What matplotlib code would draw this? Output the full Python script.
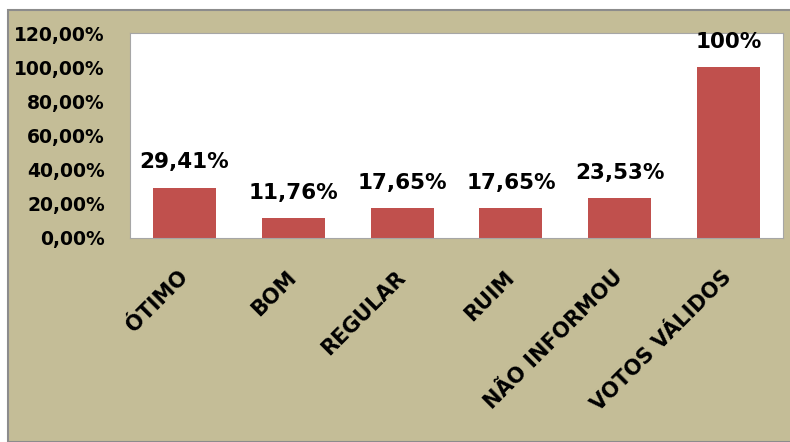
import matplotlib.pyplot as plt
from matplotlib.patches import Rectangle
from matplotlib.transforms import ScaledTranslation

categorias = ['ÓTIMO', 'BOM', 'REGULAR', 'RUIM', 'NÃO INFORMOU', 'VOTOS VÁLIDOS']
valores = [0.2941, 0.1176, 0.1765, 0.1765, 0.2353, 1.00]
rotulos = ['29,41%', '11,76%', '17,65%', '17,65%', '23,53%', '100%']
yticks = [0, 0.2, 0.4, 0.6, 0.8, 1.0, 1.2]

plt.rcParams['font.family'] = ['DejaVu Sans']
plt.rcParams['font.weight'] = 'bold'

fig = plt.figure(figsize=(7.9, 4.42), dpi=100)
fig.patch.set_facecolor('white')
# moldura bege do gráfico
fig.patches.append(Rectangle((8 / 790, 0), 1, 432 / 442, transform=fig.transFigure,
                             facecolor='#C4BD97', edgecolor='#8C8C8C', linewidth=1.5, zorder=-5))

ax = fig.add_axes([130 / 790, 204 / 442, 653 / 790, 205 / 442])
ax.set_zorder(5)
ax.set_facecolor('white')
x = range(len(categorias))
bars = ax.bar(x, valores, width=0.58, color='#C0504D', zorder=2)

# rótulos de dados acima das barras
for xi, v, lab in zip(x, valores, rotulos):
    ax.annotate(lab, (xi, v), xytext=(0, 11), textcoords='offset points',
                ha='center', va='bottom', fontsize=15.5, fontweight='bold')

ax.set_xlim(-0.5, len(categorias) - 0.5)
ax.set_ylim(0, 1.2)
ax.set_yticks(yticks)
ax.set_yticklabels([f'{t * 100:.2f}%'.replace('.', ',') for t in yticks], fontsize=13.5, fontweight='bold')
ax.set_xticks(list(x))
ax.set_xticklabels(categorias, rotation=45, ha='right', va='center', rotation_mode='anchor',
                   fontsize=15, fontweight='bold')
desloc = ScaledTranslation(4 / 100, 0, fig.dpi_scale_trans)
for lbl in ax.get_xticklabels():
    lbl.set_transform(lbl.get_transform() + desloc)
ax.tick_params(length=0)
ax.tick_params(axis='y', pad=18)
ax.tick_params(axis='x', pad=26)
for s in ax.spines.values():
    s.set_color('#A6A6A6')
    s.set_linewidth(0.8)

fig.savefig('out.png', dpi=100)
